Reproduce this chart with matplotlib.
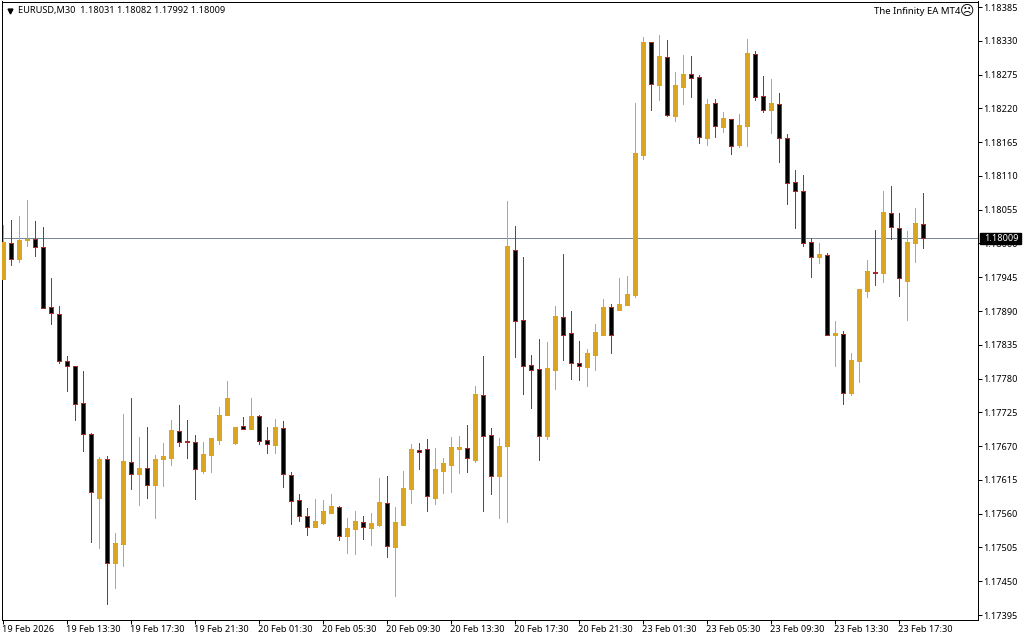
# EURUSD M30 candlestick chart, MT4 look

import matplotlib
matplotlib.use("Agg")
import matplotlib.pyplot as plt
from matplotlib.patches import Rectangle
from matplotlib.transforms import ScaledTranslation
import numpy as np

plt.rcParams["font.family"] = ["Noto Sans", "DejaVu Sans"]

# Prices in points (1 point = 0.00001)
opens = [117942, 118000, 117974, 118006, 118007, 117994, 117896, 117885, 117808, 117800,
         117740, 117689, 117586, 117649, 117479, 117511, 117644, 117624, 117634, 117606,
         117649, 117651, 117694, 117678, 117676, 117630, 117656, 117680, 117721, 117675,
         117703, 117698, 117719, 117680, 117672, 117699, 117623, 117582, 117556, 117538,
         117545, 117561, 117571, 117524, 117535, 117546, 117537, 117542, 117577, 117506,
         117542, 117600, 117664, 117665, 117586, 117630, 117639, 117665, 117667, 117647,
         117753, 117688, 117621, 117670, 117989, 117875, 117802, 117795, 117686, 117794,
         117880, 117854, 117805, 117799, 117818, 117851, 117896, 117892, 117900, 117916,
         118144, 118328, 118258, 118303, 118208, 118255, 118276, 118271, 118172, 118228,
         118190, 118202, 118160, 118191, 118308, 118240, 118217, 118227, 118171, 118100,
         118085, 118002, 117978, 117981, 117851, 117852, 117757, 117809, 117923, 117954,
         117952, 118049, 118026, 117939, 118001, 118031]
highs = [118030, 118038, 118045, 118071, 118037, 118027, 117944, 117898, 117817, 117800,
         117792, 117691, 117652, 117654, 117529, 117722, 117748, 117685, 117701, 117656,
         117675, 117713, 117737, 117713, 117688, 117677, 117683, 117734, 117776, 117701,
         117717, 117748, 117720, 117701, 117714, 117711, 117628, 117592, 117569, 117584,
         117582, 117592, 117573, 117553, 117564, 117556, 117561, 117618, 117621, 117571,
         117630, 117674, 117675, 117682, 117667, 117651, 117685, 117686, 117704, 117768,
         117817, 117700, 117683, 118069, 118028, 117978, 117818, 117844, 117840, 117898,
         117983, 117890, 117841, 117828, 117869, 117910, 117901, 117944, 117947, 118229,
         118336, 118328, 118339, 118331, 118279, 118307, 118305, 118274, 118235, 118235,
         118214, 118203, 118211, 118333, 118313, 118273, 118268, 118245, 118178, 118120,
         118112, 118009, 118001, 117985, 117874, 117858, 117822, 117926, 117973, 118022,
         118085, 118094, 118050, 118020, 118058, 118082]
lows = [117942, 117965, 117970, 117996, 117980, 117895, 117869, 117806, 117760, 117713,
        117662, 117514, 117504, 117413, 117439, 117475, 117600, 117574, 117586, 117553,
        117605, 117639, 117670, 117651, 117584, 117626, 117628, 117674, 117721, 117674,
        117698, 117698, 117674, 117659, 117659, 117604, 117543, 117548, 117525, 117538,
        117543, 117561, 117517, 117496, 117494, 117519, 117509, 117540, 117490, 117426,
        117542, 117577, 117633, 117564, 117576, 117594, 117595, 117626, 117628, 117644,
        117564, 117592, 117553, 117547, 117815, 117755, 117732, 117647, 117682, 117763,
        117810, 117779, 117778, 117768, 117794, 117851, 117822, 117892, 117900, 117913,
        118138, 118217, 118234, 118208, 118199, 118227, 118239, 118164, 118160, 118173,
        118182, 118146, 118157, 118159, 118234, 118214, 118180, 118133, 118064, 118025,
        117996, 117945, 117968, 117851, 117801, 117739, 117753, 117774, 117913, 117932,
        117937, 118007, 117915, 117875, 117970, 117992]
closes = [118002, 117975, 118006, 118008, 117995, 117895, 117886, 117809, 117801, 117739,
          117690, 117596, 117649, 117479, 117512, 117646, 117625, 117634, 117607, 117649,
          117654, 117696, 117677, 117677, 117632, 117657, 117683, 117721, 117748, 117701,
          117698, 117719, 117679, 117674, 117701, 117624, 117581, 117557, 117539, 117548,
          117564, 117573, 117524, 117537, 117548, 117539, 117545, 117579, 117508, 117547,
          117602, 117665, 117661, 117588, 117633, 117643, 117669, 117669, 117650, 117755,
          117687, 117622, 117670, 117996, 117874, 117801, 117794, 117687, 117797, 117882,
          117851, 117806, 117801, 117822, 117856, 117897, 117851, 117901, 117918, 118147,
          118328, 118260, 118305, 118210, 118258, 118276, 118269, 118174, 118227, 118192,
          118204, 118158, 118193, 118310, 118239, 118218, 118229, 118172, 118099, 118086,
          118001, 117978, 117983, 117851, 117854, 117757, 117810, 117926, 117955, 117952,
          118051, 118027, 117943, 118002, 118033, 118009]

time_labels = ["19 Feb 2026", "19 Feb 13:30", "19 Feb 17:30", "19 Feb 21:30", "20 Feb 01:30",
               "20 Feb 05:30", "20 Feb 09:30", "20 Feb 13:30", "20 Feb 17:30", "20 Feb 21:30",
               "23 Feb 01:30", "23 Feb 05:30", "23 Feb 09:30", "23 Feb 13:30", "23 Feb 17:30"]
time_ticks = [0, 8, 16, 24, 32, 40, 48, 56, 64, 72, 80, 88, 96, 104, 112]
price_ticks = [1.18385, 1.18330, 1.18275, 1.18220, 1.18165, 1.18110, 1.18055, 1.18000, 1.17945,
               1.17890, 1.17835, 1.17780, 1.17725, 1.17670, 1.17615, 1.17560, 1.17505, 1.17450,
               1.17395]
last_price = 1.18009
header = "EURUSD,M30  1.18031 1.18082 1.17992 1.18009"
ea_name = "The Infinity EA MT4"

GOLD = "#DAA520"
RED = "#A52A2A"
LINE = "#778899"
PX = 72 / 100  # one pixel in points
FS = 6.6

o = np.array(opens) / 1e5
h = np.array(highs) / 1e5
l = np.array(lows) / 1e5
c = np.array(closes) / 1e5
x = np.arange(len(o))
up = c > o

fig = plt.figure(figsize=(10.24, 6.40), dpi=100)
ax = fig.add_axes([2.2 / 1024, 1 - 619.5 / 640, 976 / 1024, 618 / 640])
ax.set_xlim(-0.125, 121.875)
ax.set_ylim(1.173877, 1.18394)

# current price line sits behind the candles
ax.axhline(last_price, color=LINE, lw=PX, zorder=1)

# wicks
ax.vlines(x[up], l[up], h[up], color=GOLD, lw=PX, zorder=2, antialiased=False)
ax.vlines(x[~up], l[~up], h[~up], color=RED, lw=PX, zorder=2, antialiased=False)

# bodies
ax.bar(x[up], (c - o)[up], bottom=o[up], width=0.5, color=GOLD, edgecolor=GOLD,
       lw=PX, zorder=3, antialiased=False)
ax.bar(x[~up], (o - c)[~up], bottom=c[~up], width=0.5, color="black", edgecolor=RED,
       lw=PX, zorder=3, antialiased=False)

# axes
for side in ["left", "right", "top", "bottom"]:
    ax.spines[side].set_linewidth(PX)
ax.yaxis.tick_right()
ax.set_yticks(price_ticks)
ax.set_yticklabels(["%.5f" % p for p in price_ticks])
ax.set_xticks(time_ticks)
ax.set_xticklabels(time_labels, ha="left")
ax.tick_params(axis="y", length=3, width=PX, pad=0.6, labelsize=FS)
ax.tick_params(axis="x", length=3, width=PX, pad=1, labelsize=FS)

# time labels start one pixel left of their tick
nudge = ScaledTranslation(-PX / 72, 0, fig.dpi_scale_trans)
for lab in ax.get_xticklabels():
    lab.set_transform(lab.get_transform() + nudge)

# last price box over the axis
fig.add_artist(Rectangle((980 / 1024, 1 - 244 / 640), 41 / 1024, 11 / 640, color="black",
                         transform=fig.transFigure, zorder=5))
fig.text(984 / 1024, 1 - 238.5 / 640, "%.5f" % last_price, color="white", fontsize=FS,
         va="center", ha="left", zorder=6)

# header and EA name
ax.plot([8 / 976], [1 - 9.5 / 618], marker="v", color="black", ms=3.5, transform=ax.transAxes,
        clip_on=False, zorder=6)
fig.text(18 / 1024, 1 - 10 / 640, header, fontsize=FS, va="center", ha="left")
fig.text(960 / 1024, 1 - 11 / 640, ea_name, fontsize=6.9, va="center", ha="right")
fig.text(967 / 1024, 1 - 11 / 640, "\u2639", fontsize=10, va="center", ha="center",
         family="DejaVu Sans")

fig.savefig("out.png", dpi=100)
